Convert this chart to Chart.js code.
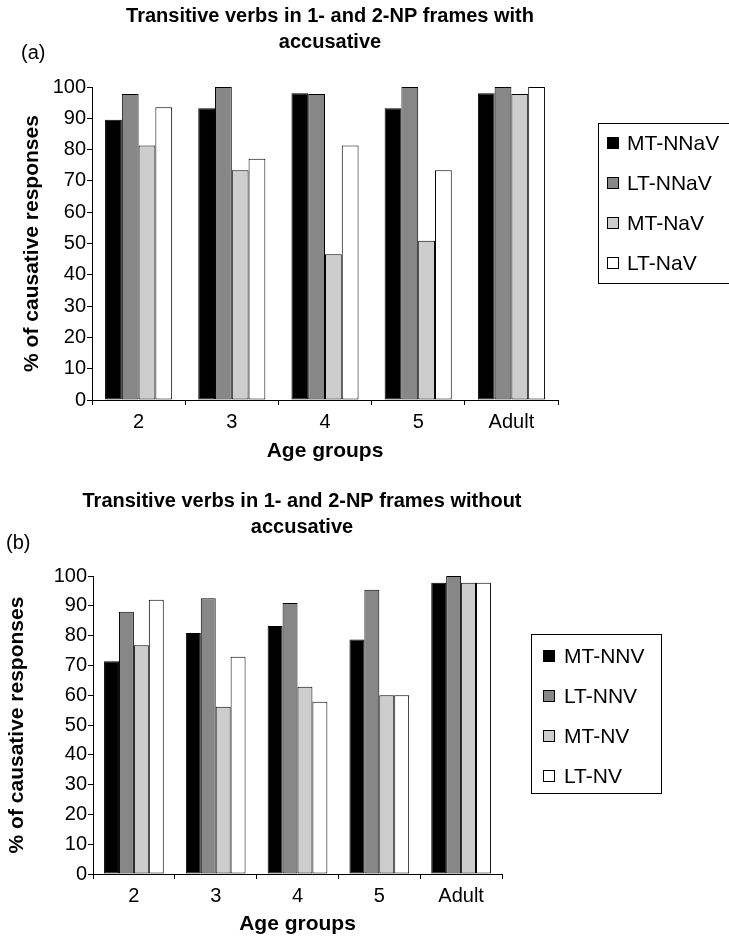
<!DOCTYPE html>
<html><head><meta charset="utf-8">
<script src="https://cdn.jsdelivr.net/npm/chart.js@4.4.1/dist/chart.umd.min.js"></script>
<style>
html,body{margin:0;padding:0;background:#fff;}
#wrap{position:relative;width:729px;height:940px;overflow:hidden;}
.pane{position:absolute;left:0;width:729px;height:470px;}
canvas{display:block;}
</style>
</head><body>
<div id="wrap">
  <div class="pane" style="top:0"><canvas id="c1" width="729" height="470"></canvas></div>
  <div class="pane" style="top:470px"><canvas id="c2" width="729" height="470"></canvas></div>
</div>
<script>
// ---- data ----
const ageGroups = ['2', '3', '4', '5', 'Adult'];

const titleA = ['Transitive verbs in 1- and 2-NP frames with', 'accusative'];
const seriesNamesA = ['MT-NNaV', 'LT-NNaV', 'MT-NaV', 'LT-NaV'];
const mtNNaV = [89.5, 93.2, 98, 93.2, 98];
const ltNNaV = [97.8, 100, 97.8, 100, 100];
const mtNaV  = [81.3, 73.4, 46.6, 50.9, 97.8];
const ltNaV  = [93.5, 77.1, 81.3, 73.4, 100];

const titleB = ['Transitive verbs in 1- and 2-NP frames without', 'accusative'];
const seriesNamesB = ['MT-NNV', 'LT-NNV', 'MT-NV', 'LT-NV'];
const mtNNV = [71.4, 80.9, 83.2, 78.7, 97.7];
const ltNNV = [88.0, 92.5, 90.9, 95.4, 100];
const mtNV  = [76.8, 56.1, 62.8, 60.0, 97.7];
const ltNV  = [92.0, 72.9, 57.8, 60.0, 97.7];

const yAxisTitle = '% of causative responses';
const xAxisTitle = 'Age groups';
const yMin = 0, yMax = 100, yStep = 10;

// ---- styling ----
const FONT = 'Arial, "Liberation Sans", Helvetica, sans-serif';
const fills = ['#000000', '#878787', '#cdcdcd', '#ffffff'];

const decor = {
  id: 'decor',
  afterDraw(chart, args, o) {
    const ctx = chart.ctx;
    ctx.save();
    ctx.fillStyle = '#000';
    ctx.textBaseline = 'middle';
    ctx.font = 'bold 20px ' + FONT;
    ctx.textAlign = 'center';
    o.titleLines.forEach((t, i) => ctx.fillText(t, o.titleX, o.titleY[i]));
    ctx.font = '20px ' + FONT;
    ctx.textAlign = 'left';
    ctx.fillText(o.panel, o.panelX, o.panelY);
    const L = o.legend;
    ctx.lineWidth = 1;
    ctx.strokeStyle = '#000';
    ctx.strokeRect(L.x + 0.5, L.y + 0.5, L.w, L.h);
    ctx.font = '21px ' + FONT;
    chart.data.datasets.forEach((ds, i) => {
      const cy = L.y0 + i * L.dy;
      ctx.fillStyle = ds.backgroundColor;
      ctx.fillRect(L.sx, cy - 6, 12, 12);
      ctx.strokeStyle = '#000';
      ctx.strokeRect(L.sx + 0.5, cy - 5.5, 11, 11);
      ctx.fillStyle = '#000';
      ctx.fillText(ds.label, L.tx, cy + 1);
    });
    ctx.restore();
  }
};

function makeChart(id, names, series, title, geo) {
  const datasets = series.map((vals, i) => ({
    label: names[i],
    data: vals,
    backgroundColor: fills[i],
    borderColor: '#000',
    borderWidth: 1,
    borderSkipped: false,
    categoryPercentage: geo.catPct,
    barPercentage: 1.0
  }));
  return new Chart(document.getElementById(id), {
    type: 'bar',
    data: { labels: ageGroups, datasets },
    plugins: [decor],
    options: {
      responsive: false,
      animation: false,
      events: [],
      layout: { padding: { top: geo.top, right: geo.right, left: 0, bottom: 0 } },
      plugins: {
        legend: { display: false },
        title: { display: false },
        tooltip: { enabled: false },
        decor: {
          titleLines: title, titleX: geo.titleX, titleY: geo.titleY,
          panel: geo.panel, panelX: geo.panelX, panelY: geo.panelY,
          legend: geo.legend
        }
      },
      scales: {
        x: {
          grid: { display: true, drawOnChartArea: false, drawTicks: true, tickLength: 5, color: '#000', offset: true },
          border: { display: true, color: '#000', width: 1 },
          ticks: { color: '#000', font: { size: 20, family: FONT }, padding: geo.xPad, maxRotation: 0, autoSkip: false },
          title: { display: true, text: xAxisTitle, color: '#000', font: { size: 21, weight: 'bold', family: FONT }, padding: { top: 0, bottom: geo.xTitlePad } },
          afterFit(s) { s.height = geo.xHeight; }
        },
        y: {
          min: yMin, max: yMax,
          grid: { display: true, drawOnChartArea: false, drawTicks: true, tickLength: 5, color: '#000' },
          border: { display: true, color: '#000', width: 1 },
          ticks: { stepSize: yStep, color: '#000', font: { size: 20, family: FONT }, padding: 1 },
          title: { display: true, text: yAxisTitle, color: '#000', font: { size: 21, weight: 'bold', family: FONT }, padding: { top: geo.yTitlePad, bottom: 0 } },
          afterFit(s) { s.width = geo.yWidth; }
        }
      }
    }
  });
}

makeChart('c1', seriesNamesA, [mtNNaV, ltNNaV, mtNaV, ltNaV], titleA, {
  catPct: 0.72, top: 87, right: 171, yWidth: 92, xHeight: 70, xPad: 5, xTitlePad: 6, yTitlePad: 20,
  titleX: 330, titleY: [16, 42], panel: '(a)', panelX: 21, panelY: 53,
  legend: { x: 598, y: 123, w: 140, h: 160, y0: 143, dy: 40, sx: 607, tx: 627 }
});

makeChart('c2', seriesNamesB, [mtNNV, ltNNV, mtNV, ltNV], titleB, {
  catPct: 0.73, top: 106, right: 227, yWidth: 93, xHeight: 66, xPad: 5, xTitlePad: 3, yTitlePad: 5,
  titleX: 302, titleY: [31, 57], panel: '(b)', panelX: 6, panelY: 73,
  legend: { x: 531, y: 164, w: 130, h: 159, y0: 186, dy: 40, sx: 543, tx: 564 }
});
</script>
</body></html>
